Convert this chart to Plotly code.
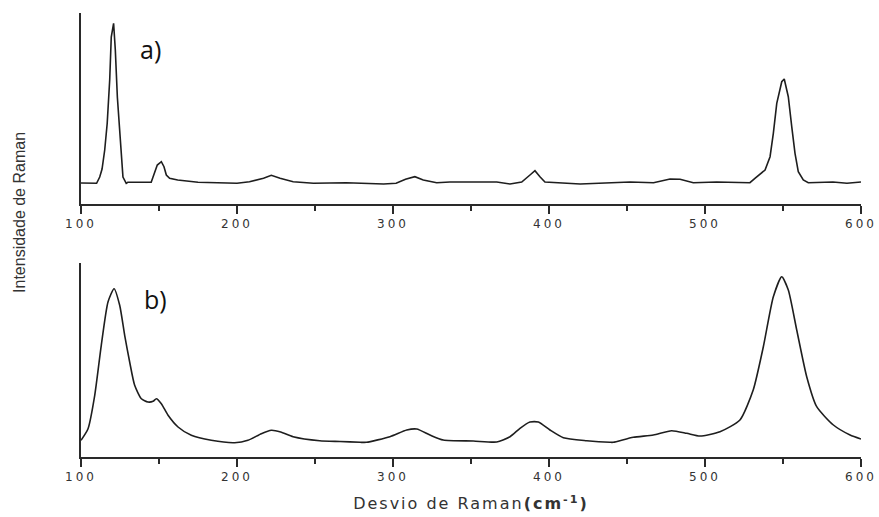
import plotly.graph_objects as go
from plotly.subplots import make_subplots

# ---- data (Raman shift in cm^-1, intensity in arbitrary units) ----
shift_a = [100, 110, 112, 113.5, 115.2, 116.8, 118.4, 119.4, 120.9, 122, 123.3, 124.6, 125.9,
           126.9, 129, 130, 145, 146.8, 148.9, 151.5, 153.2, 154.7, 156.8, 162, 175, 200,
           208, 217, 222, 227.6, 236, 249, 270, 294, 302, 308, 314, 319.4, 328, 336.5,
           366.5, 375, 382.5, 387.8, 391, 394.2, 397.4, 420, 445, 452, 467, 477.6, 484,
           492.5, 507.5, 528.8, 532, 538.5, 541.7, 543.8, 546, 549.2, 550.8, 553.4, 555.6,
           557.7, 559.8, 563, 566.2, 582, 591, 600]
intensity_a = [21, 20.7, 27, 35, 54, 80.7, 124, 167, 180.7, 154, 107, 74, 47,
               27, 20.7, 21.7, 21.7, 29, 39, 42.3, 37.3, 29, 25.7, 24, 21.7, 20.7,
               22.3, 25.7, 28.7, 25.7, 22.3, 20.7, 21.3, 20, 20.7, 24.7, 27.3, 24, 21.3, 22,
               22, 20, 22, 29, 33.3, 27.3, 22, 20, 21.3, 22, 21.3, 25, 24.7,
               21.3, 22, 21.3, 25.7, 34, 47.3, 70.7, 100.7, 122.3, 125, 107.3, 77.3,
               50.7, 32.3, 24, 21.3, 22, 20.7, 22]

shift_b = [100, 104.5, 108.8, 113, 117.3, 121.2, 124.8, 128, 131.2, 134.4, 138.7, 142.9,
           146.2, 148.3, 151.5, 155.8, 162.2, 170.7, 183.5, 198.5, 207, 215.6, 222, 228,
           236, 253, 266, 279, 283, 298, 308.8, 315.2, 323.7, 332.2, 351.5, 366.5, 375,
           381.4, 387.8, 393.2, 400.6, 409.2, 424.2, 439, 441.2, 454, 466.9, 478.6, 488.3,
           496.8, 509.6, 522.4, 530.9, 537.4, 543.8, 549.2, 553.4, 558.8, 565.2, 571.6,
           582.3, 593, 600]
intensity_b = [16.7, 28.3, 61.7, 111.7, 155, 168.3, 151.7, 121.7, 95, 71.7, 58.3, 55,
               55.7, 58.3, 53.3, 41.7, 30, 21.7, 16.7, 14.3, 16.7, 23.3, 26.7, 25,
               20.3, 16.3, 15.5, 14.7, 14.7, 20.3, 27, 28, 22, 17, 16, 15, 20.3,
               28.7, 35, 35, 27, 19.3, 16.3, 14.7, 14.7, 19.7, 22, 26.3, 23.7,
               21, 25.3, 37, 67, 110.3, 160.3, 180.3, 167, 127, 80.3, 50.3,
               32, 22, 18]

tick_values = [100, 200, 300, 400, 500, 600]
tick_labels = ["100", "200", "300", "400", "500", "600"]
panel_labels = ["a)", "b)"]
x_title = "Desvio de Raman<b>(cm<sup>-1</sup>)</b>"
y_title = "Intensidade de Raman"

LINE = "#1e1e1e"
AX = "#2a2a2a"

fig = make_subplots(rows=2, cols=1, vertical_spacing=0.133)
fig.add_trace(go.Scatter(x=shift_a, y=intensity_a, mode="lines",
                         line=dict(color=LINE, width=1.6), showlegend=False), row=1, col=1)
fig.add_trace(go.Scatter(x=shift_b, y=intensity_b, mode="lines",
                         line=dict(color=LINE, width=1.6, shape="spline", smoothing=0.6),
                         showlegend=False), row=2, col=1)

xcommon = dict(range=[100, 600], showline=True, linecolor=AX, linewidth=1.5,
               showgrid=False, zeroline=False, ticks="outside", ticklen=8, tickwidth=1.5,
               tickcolor=AX, tickvals=tick_values, ticktext=tick_labels,
               minor=dict(dtick=50, tick0=0, ticks="outside", ticklen=5, tickwidth=1.5,
                          tickcolor=AX, showgrid=False),
               tickfont=dict(family="DejaVu Sans", size=12, color="#333333"))
ycommon = dict(showline=True, linecolor=AX, linewidth=1.5, showgrid=False,
               zeroline=False, showticklabels=False, ticks="")

fig.update_xaxes(**xcommon)
fig.update_yaxes(**ycommon)
fig.update_layout(
    xaxis=dict(domain=[0, 1]), xaxis2=dict(domain=[0, 1]),
    yaxis=dict(domain=[0.5698, 1.0], range=[0, 191]),
    yaxis2=dict(domain=[0.0, 0.4369], range=[0, 194]),
)
fig.update_xaxes(title=dict(text=x_title, standoff=15,
                            font=dict(family="DejaVu Sans", size=16, color="#333333")),
                 row=2, col=1)

fig.add_annotation(text=panel_labels[0], xref="paper", yref="paper", x=0.073, y=0.92,
                   xanchor="left", yanchor="middle", showarrow=False,
                   font=dict(family="Open Sans", size=25, color="#111111"))
fig.add_annotation(text=panel_labels[1], xref="paper", yref="paper", x=0.078, y=0.355,
                   xanchor="left", yanchor="middle", showarrow=False,
                   font=dict(family="Open Sans", size=25, color="#111111"))
fig.add_annotation(text=y_title, xref="paper", yref="paper", x=-0.078, y=0.55,
                   xanchor="center", yanchor="middle", textangle=-90, showarrow=False,
                   font=dict(family="Liberation Sans Narrow, Liberation Sans", size=16,
                             color="#333333"))

fig.update_layout(
    width=879, height=517,
    margin=dict(l=81, r=18, t=13, b=60, autoexpand=False),
    paper_bgcolor="white", plot_bgcolor="white",
)

post = """
document.body.style.margin='0';
document.querySelectorAll('.xtick text, .x2tick text').forEach(function(t){t.setAttribute('letter-spacing','3px');});
document.querySelectorAll('.g-x2title text').forEach(function(t){t.setAttribute('letter-spacing','2px');});
"""
fig.write_html("out.html", post_script=post, config={"displayModeBar": False})
